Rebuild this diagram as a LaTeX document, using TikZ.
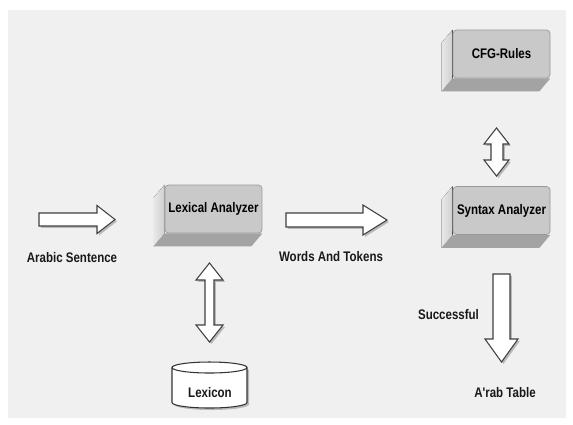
\documentclass[tikz,border=0pt]{standalone}
\usepackage{fontspec}
\newfontfamily\lblfont[FakeStretch=0.83]{Liberation Sans}
\usetikzlibrary{backgrounds,shadows}

\tikzset{
  analyzer/.style={rectangle, rounded corners=2pt, draw=gray!80, fill=gray!42,
    minimum width=1.94cm, minimum height=0.96cm, inner sep=1pt,
    font=\lblfont\bfseries\fontsize{7.9}{9}\selectfont},
  caption/.style={inner sep=1pt, text=black!90,
    font=\lblfont\bfseries\fontsize{7.9}{9}\selectfont},
  blockarrow/.style={draw=black!75, line width=0.6pt, fill=white, line join=miter,
    general shadow={fill=gray!55, shadow xshift=1.1pt, shadow yshift=-1.1pt}}
}

% side faces of a raised box
\newcommand\bevel[1]{%
  \fill[left color=gray!18, right color=gray!38]
    (#1.north west) -- (#1.south west) -- ([shift={(-11,13)}]#1.south west)
    -- ([shift={(-11,13)}]#1.north west) -- cycle;
  \fill[gray!72]
    (#1.south west) -- (#1.south east) -- ([shift={(-11,13)}]#1.south east)
    -- ([shift={(-11,13)}]#1.south west) -- cycle;
}

\begin{document}
\begin{tikzpicture}[x=0.02cm,y=-0.02cm]
\useasboundingbox (0,0) rectangle (573,424);
\begin{scope}[on background layer]
\fill[black!6] (8,10) rectangle (566,418);
\end{scope}

\node[analyzer] (lex) at (213.5,209) {Lexical Analyzer};
\node[analyzer] (syn) at (501.5,210.5) {Syntax Analyzer};
\node[analyzer] (cfg) at (501.5,54) {CFG-Rules};

\begin{scope}[on background layer]
\bevel{lex}
\bevel{syn}
\bevel{cfg}
\end{scope}

% input and output arrows
\draw[blockarrow] (39,213) -- (97,213) -- (97,205.5) -- (115,219.5) -- (97,233.5)
  -- (97,226) -- (39,226) -- cycle;
\draw[blockarrow] (286,213) -- (363,213) -- (363,205) -- (387,220) -- (363,235)
  -- (363,227) -- (286,227) -- cycle;
\draw[blockarrow] (493,274) -- (510,274) -- (510,339) -- (518,339) -- (501.5,362)
  -- (485,339) -- (493,339) -- cycle;

% two-way arrows
\draw[blockarrow] (209.5,263) -- (223,280) -- (214,280) -- (214,325) -- (223,325)
  -- (209.5,342) -- (196,325) -- (205,325) -- (205,280) -- (196,280) -- cycle;
\draw[blockarrow] (496.5,128) -- (509,144) -- (503,144) -- (503,160) -- (509,160)
  -- (496.5,176) -- (484,160) -- (491,160) -- (491,144) -- (484,144) -- cycle;

% lexicon store
\fill[gray!55] (174,369.5) -- (174,404.5) arc[start angle=180, end angle=0,
  x radius=37.5, y radius=5.5] -- (249,369.5) -- cycle;
\draw[black!80, fill=white, line width=0.6pt] (172,367.5) -- (172,402.5)
  arc[start angle=180, end angle=0, x radius=37.5, y radius=5.5]
  -- (247,367.5);
\draw[black!80, fill=white, line width=0.6pt] (209.5,367.5) ellipse[x radius=37.5, y radius=5.5];
\node[caption] (lexicon) at (210,393) {Lexicon};

\node[caption] (input) at (72,258) {Arabic Sentence};
\node[caption] (tokens) at (331,257) {Words And Tokens};
\node[caption] (ok) at (448.5,315) {Successful};
\node[caption] (table) at (505,393) {A'rab Table};
\end{tikzpicture}
\end{document}
